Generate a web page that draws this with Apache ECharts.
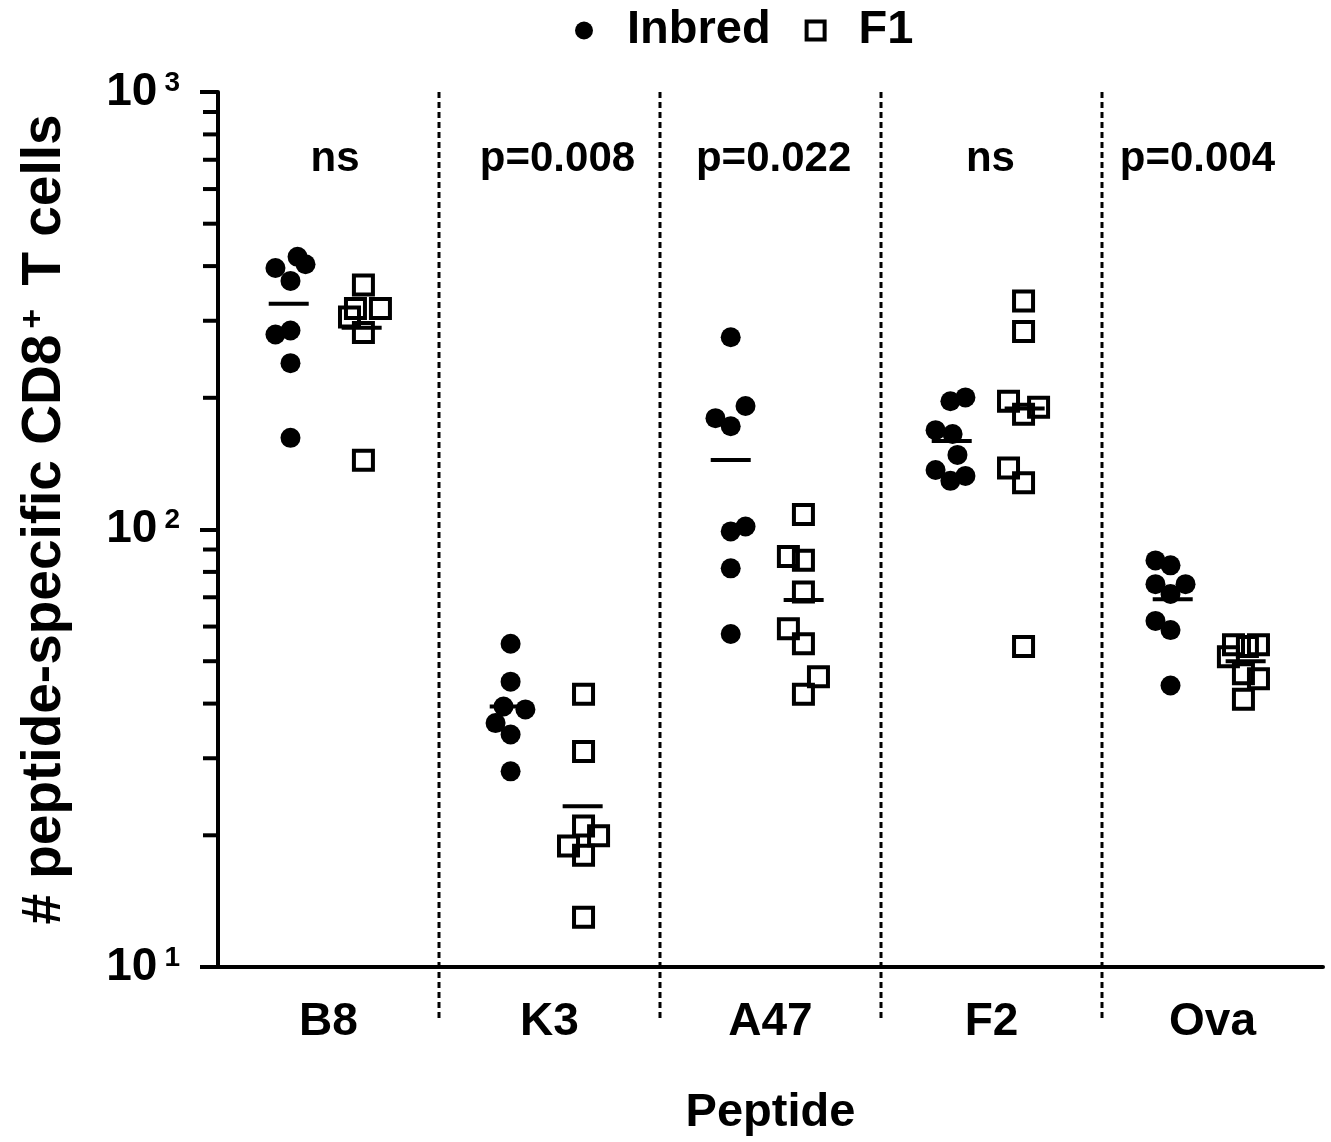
<!DOCTYPE html>
<html>
<head>
<meta charset="utf-8">
<script src="https://cdn.jsdelivr.net/npm/echarts@6/dist/echarts.min.js"></script>
<style>
  html, body { margin: 0; background: #fff; }
  #chart { width: 1331px; height: 1142px; }
</style>
</head>
<body>
<div id="chart"></div>
<script>
// peptides on the x axis
const peptides = ['B8', 'K3', 'A47', 'F2', 'Ova'];
const pLabels = ['ns', 'p=0.008', 'p=0.022', 'ns', 'p=0.004'];

// cell counts, one list per peptide
const inbred = [
  [396, 420, 404, 370, 279, 285, 240, 162],
  [54.8, 44.9, 39.4, 38.8, 36.1, 34.0, 28.0],
  [275, 191.5, 179.7, 172.2, 101.6, 99.0, 81.5, 57.7],
  [196.4, 200.4, 168.7, 165.3, 148.1, 136.8, 129.2, 132.6],
  [85.0, 82.8, 75.0, 75.0, 71.2, 61.8, 58.9, 44.0]
];
const f1 = [
  [362, 320, 320, 306, 282, 144],
  [42.0, 31.1, 21.0, 19.95, 18.9, 18.0, 13.0],
  [108.2, 86.8, 85.1, 72.0, 59.3, 54.8, 46.1, 42.0],
  [333, 283.4, 196.4, 190.3, 183.4, 138.3, 127.9, 54.0],
  [54.5, 54.5, 54.0, 51.2, 46.8, 45.6, 40.9]
];
// horizontal scatter of the dots inside each column (category units)
const inbredJitter = [
  [-0.24, -0.14, -0.104, -0.172, -0.24, -0.172, -0.172, -0.172],
  [-0.176, -0.176, -0.208, -0.109, -0.244, -0.176, -0.176],
  [-0.18, -0.113, -0.249, -0.18, -0.113, -0.18, -0.18, -0.18],
  [-0.186, -0.118, -0.253, -0.176, -0.154, -0.253, -0.186, -0.118],
  [-0.258, -0.19, -0.258, -0.122, -0.19, -0.258, -0.19, -0.19]
];
const f1Jitter = [
  [0.158, 0.235, 0.122, 0.095, 0.158, 0.158],
  [0.154, 0.154, 0.154, 0.222, 0.086, 0.154, 0.154],
  [0.149, 0.081, 0.149, 0.149, 0.081, 0.149, 0.217, 0.149],
  [0.145, 0.145, 0.077, 0.213, 0.145, 0.077, 0.145, 0.145],
  [0.095, 0.208, 0.158, 0.072, 0.14, 0.208, 0.14]
];
const inbredMean = [328, 39.4, 144.2, 159.3, 69.3];
const f1Mean = [289, 23.3, 69.0, 189, 50];

const yMin = 10, yMax = 1000;
const minorTicks = [20, 30, 40, 50, 60, 70, 80, 90, 200, 300, 400, 500, 600, 700, 800, 900];
const dividers = [0.5, 1.5, 2.5, 3.5];
const pY = 700;
const pShift = [0.03, 0.036, 0.014, -0.005, -0.068];

const FONT = 'Liberation Sans, Arial, sans-serif';
const inbredX = -0.18, f1X = 0.15;

function pts(vals, jit) {
  const out = [];
  vals.forEach((col, i) => col.forEach((v, j) => out.push([i + jit[i][j], v])));
  return out;
}

const chart = echarts.init(document.getElementById('chart'));
chart.setOption({
  animation: false,
  backgroundColor: '#fff',
  textStyle: { fontFamily: FONT, fontWeight: 'bold', color: '#000' },
  grid: { left: 218, right: 8, top: 92, bottom: 170 },
  legend: {
    left: 575, top: 7, padding: 0,
    itemWidth: 18, itemHeight: 18, itemGap: 34,
    symbolKeepAspect: true,
    formatter: name => '{t|' + name + '}',
    textStyle: {
      color: '#000',
      rich: { t: { fontSize: 47, fontWeight: 'bold', fontFamily: FONT, color: '#000', lineHeight: 47, padding: [0, 0, 0, 29] } }
    },
    data: [
      { name: 'Inbred', icon: 'circle', itemStyle: { color: '#000', borderWidth: 0, opacity: 1 } },
      { name: 'F1', icon: 'path://M0,0H10V10H0Z', itemStyle: { color: 'rgba(0,0,0,0)', borderColor: '#000', borderWidth: 4, opacity: 1 } }
    ]
  },
  xAxis: [{
    type: 'category',
    data: peptides,
    boundaryGap: true,
    name: 'Peptide',
    nameLocation: 'middle',
    nameGap: 123,
    nameTextStyle: { fontSize: 47, fontWeight: 'bold', fontFamily: FONT, color: '#000', lineHeight: 47 },
    axisLine: { lineStyle: { color: '#000', width: 4 } },
    axisTick: { show: false },
    axisLabel: { fontSize: 46, fontWeight: 'bold', fontFamily: FONT, color: '#000', margin: 32, lineHeight: 46 },
    splitLine: { show: false }
  }, {
    type: 'value', min: -0.5, max: 4.5, show: false
  }],
  yAxis: {
    type: 'log',
    logBase: 10,
    min: yMin,
    max: yMax,
    name: '# peptide-specific CD8{s|+} T cells',
    nameLocation: 'middle',
    nameGap: 146,
    nameTextStyle: {
      fontSize: 55, fontWeight: 'bold', fontFamily: FONT, color: '#000',
      padding: [0, 0, 0, 20],
      rich: { s: { fontSize: 34, fontWeight: 'bold', fontFamily: FONT, color: '#000', verticalAlign: 'top', padding: [0, 8, 0, 6] } }
    },
    axisLine: { show: true, onZero: false, lineStyle: { color: '#000', width: 4 } },
    axisTick: { show: true, length: 18, lineStyle: { color: '#000', width: 4 } },
    splitLine: { show: false },
    axisLabel: {
      margin: 38,
      formatter: v => '{b|10}{s|' + Math.round(Math.log10(v)) + '}',
      rich: {
        b: { fontSize: 46, fontWeight: 'bold', fontFamily: FONT, color: '#000' },
        s: { fontSize: 28, fontWeight: 'bold', fontFamily: FONT, color: '#000', verticalAlign: 'top', padding: [0, 0, 0, 7] }
      }
    }
  },
  series: [
    {
      name: 'Inbred', type: 'scatter', xAxisIndex: 1,
      symbol: 'circle', symbolSize: 20,
      itemStyle: { color: '#000', opacity: 1 },
      data: pts(inbred, inbredJitter), z: 3
    },
    {
      name: 'F1', type: 'scatter', xAxisIndex: 1,
      symbol: 'rect', symbolSize: 19,
      itemStyle: { color: 'rgba(0,0,0,0)', borderColor: '#000', borderWidth: 4, opacity: 1 },
      data: pts(f1, f1Jitter), z: 3
    },
    {
      name: 'mean', type: 'scatter', xAxisIndex: 1, silent: true,
      symbol: 'rect', symbolSize: [40, 4],
      itemStyle: { color: '#000', opacity: 1 },
      data: inbredMean.map((m, i) => [i + inbredX, m]).concat(f1Mean.map((m, i) => [i + f1X, m])),
      z: 4
    },
    {
      name: 'dividers', type: 'custom', xAxisIndex: 1, silent: true, clip: false,
      data: dividers.map(d => [d]),
      renderItem: (params, api) => {
        const top = api.coord([api.value(0), yMax]);
        const bot = api.coord([api.value(0), yMin]);
        return {
          type: 'line',
          shape: { x1: top[0], y1: top[1], x2: bot[0], y2: bot[1] + 55 },
          style: { stroke: '#000', lineWidth: 3, lineDash: [6, 4] }
        };
      },
      z: 1
    },
    {
      name: 'minor', type: 'scatter', xAxisIndex: 1, silent: true, clip: false,
      symbol: 'rect', symbolSize: [15, 4], symbolOffset: [-7.5, 0],
      itemStyle: { color: '#000', opacity: 1 },
      data: minorTicks.map(v => [-0.5, v])
    },
    {
      name: 'pvalues', type: 'scatter', xAxisIndex: 1, silent: true,
      symbolSize: 1, itemStyle: { color: 'rgba(0,0,0,0)', opacity: 1 },
      label: {
        show: true, position: 'inside',
        formatter: p => pLabels[p.dataIndex],
        fontSize: 42, fontWeight: 'bold', fontFamily: FONT, color: '#000'
      },
      data: peptides.map((c, i) => [i + pShift[i], pY])
    }
  ]
});
</script>
</body>
</html>
